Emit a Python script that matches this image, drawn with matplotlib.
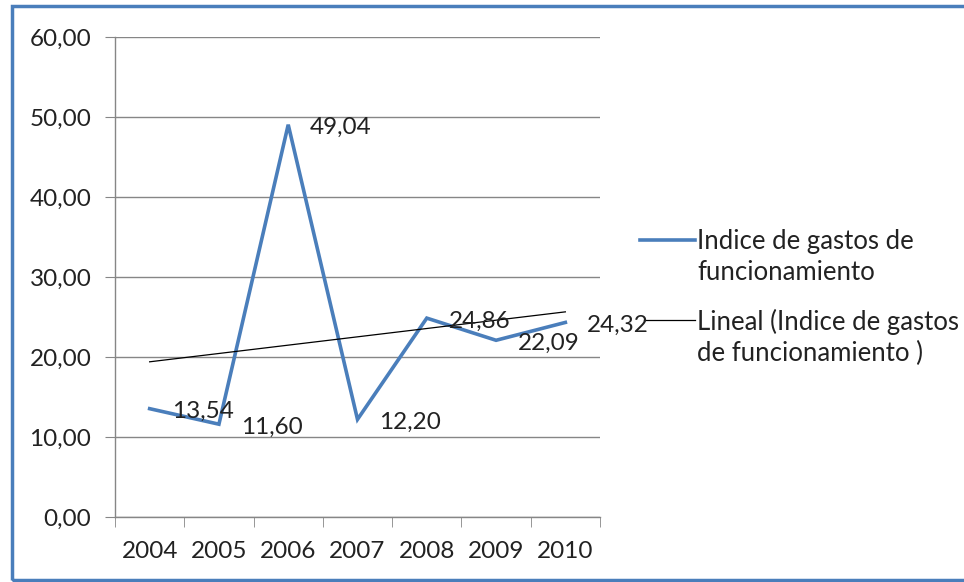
import numpy as np
import matplotlib
matplotlib.use('Agg')
import matplotlib.pyplot as plt
from matplotlib.patches import Rectangle

anios = ['2004', '2005', '2006', '2007', '2008', '2009', '2010']
indice = [13.54, 11.60, 49.04, 12.20, 24.86, 22.09, 24.32]
etiquetas = ['13,54', '11,60', '49,04', '12,20', '24,86', '22,09', '24,32']
leyenda_serie = ['Indice de gastos de', 'funcionamiento']
leyenda_tend = ['Lineal (Indice de gastos', 'de funcionamiento )']

plt.rcParams['font.family'] = ['Lato', 'DejaVu Sans']

x = np.arange(1, len(anios) + 1)
# tendencia lineal (como Excel)
m, b = np.polyfit(x, indice, 1)
tendencia = m * x + b

fig = plt.figure(figsize=(9.64, 5.82), dpi=100)
ax = fig.add_axes([0.1193, 0.1117, 0.5031, 0.8247])

azul = '#4a7ebb'
tam = 17.5
ax.plot(x, indice, color=azul, lw=2.6, solid_joinstyle='miter', zorder=3)
ax.plot(x, tendencia, color='black', lw=0.9, zorder=4)

for xi, yi, et in zip(x, indice, etiquetas):
    ax.annotate(et, (xi, yi), xytext=(22, -3), textcoords='offset pixels',
                ha='left', va='center', fontsize=tam, color='#222222', zorder=5)

ax.set_xlim(0.5, 7.5)
ax.set_ylim(0, 60)
ax.set_yticks(np.arange(0, 61, 10))
ax.set_yticklabels(['%d,00' % v for v in range(0, 61, 10)])
ax.set_xticks(x)
ax.set_xticklabels(anios)
ax.set_xticks(np.arange(0.5, 8, 1), minor=True)
ax.tick_params(axis='x', which='major', length=0, pad=17, labelsize=tam, labelcolor='#222222')
ax.tick_params(axis='x', which='minor', length=7, color='#868686', direction='out')
ax.tick_params(axis='y', length=7, color='#868686', pad=10, labelsize=tam, labelcolor='#222222')

ax.grid(axis='y', color='#868686', lw=1.0)
ax.set_axisbelow(True)
for lado in ['top', 'right']:
    ax.spines[lado].set_visible(False)
for lado in ['left', 'bottom']:
    ax.spines[lado].set_color('#868686')
    ax.spines[lado].set_linewidth(1.0)

# leyenda a mano (la muestra va alineada con la primera linea del texto)
ax.plot([1.0825, 1.196], [0.577, 0.577], transform=ax.transAxes, clip_on=False,
        color=azul, lw=2.6)
ax.plot([1.09, 1.196], [0.410, 0.410], transform=ax.transAxes, clip_on=False,
        color='black', lw=0.9)
for yy, txt in zip([0.573, 0.510, 0.406, 0.340], leyenda_serie + leyenda_tend):
    ax.text(1.2, yy, txt, transform=ax.transAxes, ha='left', va='center',
            fontsize=18.5, color='#222222')

# borde azul del grafico
fig.patches.append(Rectangle((12 / 964, 2 / 582), 1.0, 574 / 582, transform=fig.transFigure,
                             fill=False, edgecolor=azul, lw=2.5))

fig.savefig('out.png', dpi=100)
